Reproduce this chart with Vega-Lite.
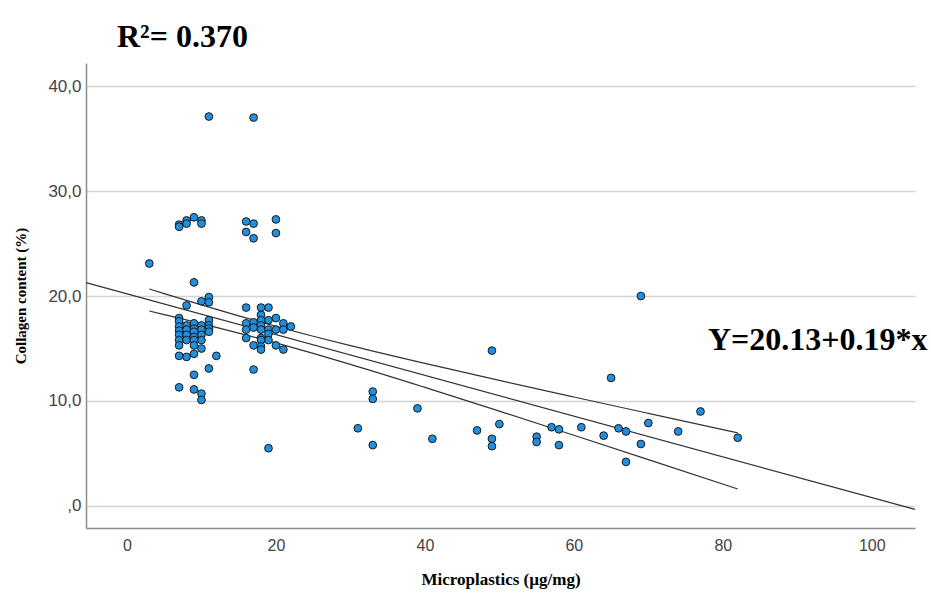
{
  "$schema": "https://vega.github.io/schema/vega-lite/v6.json",
  "width": 829,
  "height": 465,
  "autosize": {"type": "none"},
  "padding": {"left": 86, "top": 63, "right": 16, "bottom": 67},
  "background": "white",
  "config": {"view": {"stroke": null}},
  "datasets": {
    "points": [
      {"x": 3, "y": 23.1},
      {"x": 7, "y": 26.8}, {"x": 7, "y": 26.6}, {"x": 7, "y": 17.9}, {"x": 7, "y": 17.6}, {"x": 7, "y": 17.1}, {"x": 7, "y": 16.7}, {"x": 7, "y": 16.3}, {"x": 7, "y": 15.8}, {"x": 7, "y": 15.3}, {"x": 7, "y": 14.3}, {"x": 7, "y": 11.3},
      {"x": 8, "y": 27.2}, {"x": 8, "y": 26.9}, {"x": 8, "y": 19.1}, {"x": 8, "y": 17.2}, {"x": 8, "y": 16.8}, {"x": 8, "y": 16.3}, {"x": 8, "y": 15.8}, {"x": 8, "y": 14.2},
      {"x": 9, "y": 27.5}, {"x": 9, "y": 21.3}, {"x": 9, "y": 17.4}, {"x": 9, "y": 16.9}, {"x": 9, "y": 16.6}, {"x": 9, "y": 16.1}, {"x": 9, "y": 15.8}, {"x": 9, "y": 15.3}, {"x": 9, "y": 14.5}, {"x": 9, "y": 12.5}, {"x": 9, "y": 11.1},
      {"x": 10, "y": 27.2}, {"x": 10, "y": 26.9}, {"x": 10, "y": 19.5}, {"x": 10, "y": 17.2}, {"x": 10, "y": 16.8}, {"x": 10, "y": 16.3}, {"x": 10, "y": 15.8}, {"x": 10, "y": 15.0}, {"x": 10, "y": 10.7}, {"x": 10, "y": 10.1},
      {"x": 11, "y": 37.1}, {"x": 11, "y": 19.9}, {"x": 11, "y": 19.4}, {"x": 11, "y": 17.7}, {"x": 11, "y": 17.2}, {"x": 11, "y": 16.9}, {"x": 11, "y": 16.6}, {"x": 11, "y": 13.1},
      {"x": 12, "y": 14.3},
      {"x": 16, "y": 27.1}, {"x": 16, "y": 26.1}, {"x": 16, "y": 18.9}, {"x": 16, "y": 17.4}, {"x": 16, "y": 16.8}, {"x": 16, "y": 16.0},
      {"x": 17, "y": 37.0}, {"x": 17, "y": 26.9}, {"x": 17, "y": 25.5}, {"x": 17, "y": 17.5}, {"x": 17, "y": 17.0}, {"x": 17, "y": 15.3}, {"x": 17, "y": 13.0},
      {"x": 18, "y": 18.9}, {"x": 18, "y": 18.2}, {"x": 18, "y": 17.7}, {"x": 18, "y": 17.2}, {"x": 18, "y": 16.8}, {"x": 18, "y": 16.0}, {"x": 18, "y": 15.8}, {"x": 18, "y": 15.2}, {"x": 18, "y": 14.9},
      {"x": 19, "y": 18.9}, {"x": 19, "y": 17.7}, {"x": 19, "y": 16.8}, {"x": 19, "y": 16.4}, {"x": 19, "y": 15.8}, {"x": 19, "y": 5.5},
      {"x": 20, "y": 27.3}, {"x": 20, "y": 26.0}, {"x": 20, "y": 17.9}, {"x": 20, "y": 16.8}, {"x": 20, "y": 15.3},
      {"x": 21, "y": 17.4}, {"x": 21, "y": 16.8}, {"x": 21, "y": 14.9},
      {"x": 22, "y": 17.1},
      {"x": 31, "y": 7.4},
      {"x": 33, "y": 10.9}, {"x": 33, "y": 10.2}, {"x": 33, "y": 5.8},
      {"x": 39, "y": 9.3},
      {"x": 41, "y": 6.4},
      {"x": 47, "y": 7.2},
      {"x": 49, "y": 14.8}, {"x": 49, "y": 6.4}, {"x": 49, "y": 5.7},
      {"x": 50, "y": 7.8},
      {"x": 55, "y": 6.6}, {"x": 55, "y": 6.1},
      {"x": 57, "y": 7.5},
      {"x": 58, "y": 7.3}, {"x": 58, "y": 5.8},
      {"x": 61, "y": 7.5},
      {"x": 64, "y": 6.7},
      {"x": 65, "y": 12.2},
      {"x": 66, "y": 7.4},
      {"x": 67, "y": 7.1}, {"x": 67, "y": 4.2},
      {"x": 69, "y": 20.0}, {"x": 69, "y": 5.9},
      {"x": 70, "y": 7.9},
      {"x": 74, "y": 7.1},
      {"x": 77, "y": 9.0},
      {"x": 82, "y": 6.5}
    ],
    "fit": [
      {"x": -5.5, "y": 21.27},
      {"x": 105.8, "y": -0.33}
    ],
    "band": [
      {"x": 3, "y": 20.67, "series": "upper"}, {"x": 5, "y": 20.23, "series": "upper"}, {"x": 10, "y": 19.15, "series": "upper"}, {"x": 15, "y": 18.11, "series": "upper"}, {"x": 20, "y": 17.11, "series": "upper"}, {"x": 25, "y": 16.17, "series": "upper"}, {"x": 30, "y": 15.27, "series": "upper"}, {"x": 40, "y": 13.58, "series": "upper"}, {"x": 50, "y": 11.96, "series": "upper"}, {"x": 60, "y": 10.38, "series": "upper"}, {"x": 70, "y": 8.82, "series": "upper"}, {"x": 82, "y": 6.96, "series": "upper"},
      {"x": 3, "y": 18.57, "series": "lower"}, {"x": 5, "y": 18.23, "series": "lower"}, {"x": 10, "y": 17.37, "series": "lower"}, {"x": 15, "y": 16.47, "series": "lower"}, {"x": 20, "y": 15.53, "series": "lower"}, {"x": 25, "y": 14.53, "series": "lower"}, {"x": 30, "y": 13.49, "series": "lower"}, {"x": 40, "y": 11.30, "series": "lower"}, {"x": 50, "y": 9.04, "series": "lower"}, {"x": 60, "y": 6.74, "series": "lower"}, {"x": 70, "y": 4.42, "series": "lower"}, {"x": 82, "y": 1.62, "series": "lower"}
    ],
    "notes": [
      {"x": -1.34, "y": 43.74, "label": "R²= 0.370"},
      {"x": 78.0, "y": 14.86, "label": "Y=20.13+0.19*x"}
    ]
  },
  "encoding": {
    "x": {
      "field": "x", "type": "quantitative",
      "scale": {"domain": [-5.5, 105.8], "nice": false, "zero": false},
      "axis": {
        "values": [0, 20, 40, 60, 80, 100], "grid": false, "ticks": false, "tickSize": 0,
        "domainColor": "#8c8c8c", "domainWidth": 1.5,
        "labelFont": "Liberation Sans", "labelFontSize": 16, "labelColor": "#444444", "labelPadding": 9,
        "title": "Microplastics (µg/mg)", "titleFont": "Liberation Serif", "titleFontSize": 17,
        "titleFontWeight": "bold", "titleColor": "#000000", "titlePadding": 18
      }
    },
    "y": {
      "field": "y", "type": "quantitative",
      "scale": {"domain": [-2.1, 42.2], "nice": false, "zero": false},
      "axis": {
        "values": [0, 10, 20, 30, 40], "grid": true, "gridColor": "#d4d4d4", "gridWidth": 1.5,
        "ticks": false, "tickSize": 0,
        "domainColor": "#8c8c8c", "domainWidth": 1.5,
        "labelFont": "Liberation Sans", "labelFontSize": 17, "labelColor": "#444444", "labelPadding": 5,
        "labelExpr": "datum.value === 0 ? ',0' : replace(format(datum.value, '.1f'), '.', ',')",
        "title": "Collagen content (%)", "titleFont": "Liberation Serif", "titleFontSize": 15,
        "titleFontWeight": "bold", "titleColor": "#000000", "titlePadding": 19
      }
    }
  },
  "layer": [
    {
      "data": {"name": "fit"},
      "mark": {"type": "line", "color": "#333333", "strokeWidth": 1.2, "clip": false}
    },
    {
      "data": {"name": "band"},
      "mark": {"type": "line", "color": "#333333", "strokeWidth": 1.2, "interpolate": "monotone"},
      "encoding": {"detail": {"field": "series"}}
    },
    {
      "data": {"name": "points"},
      "mark": {"type": "point", "shape": "circle", "filled": true, "fill": "#1f8fde", "fillOpacity": 1, "stroke": "#1a1a1a", "strokeWidth": 1, "size": 60, "opacity": 1}
    },
    {
      "data": {"name": "notes"},
      "mark": {"type": "text", "font": "Liberation Serif", "fontSize": 32, "fontWeight": "bold", "align": "left", "baseline": "alphabetic", "color": "#000000", "clip": false},
      "encoding": {"text": {"field": "label"}}
    }
  ]
}
